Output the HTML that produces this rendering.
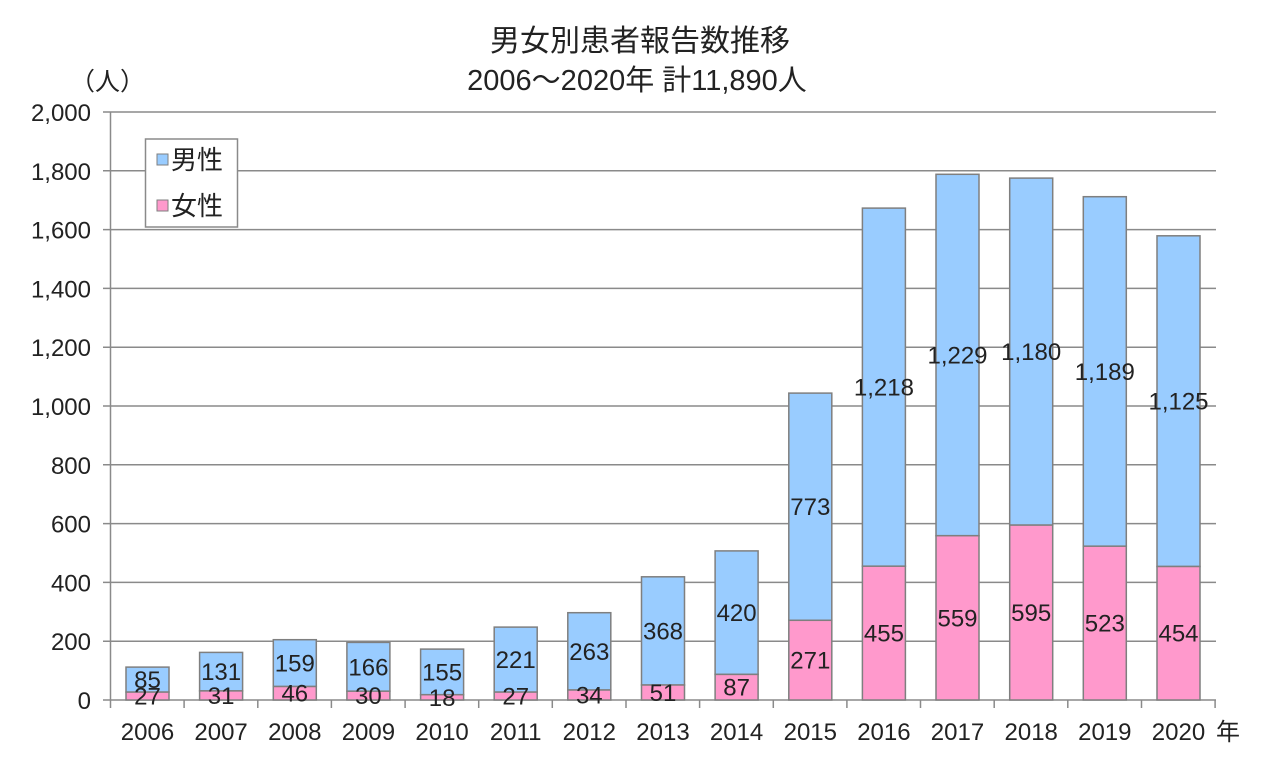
<!DOCTYPE html>
<html><head><meta charset="utf-8"><style>
html,body{margin:0;padding:0;background:#fff}
svg{display:block}
text{font-family:"Liberation Sans","Noto Sans CJK JP",sans-serif;fill:#222}
</style></head><body>
<svg width="1280" height="761" viewBox="0 0 1280 761" xmlns="http://www.w3.org/2000/svg">
<text x="640" y="51" font-size="30" text-anchor="middle">男女別患者報告数推移</text>
<text x="637" y="90" font-size="29" text-anchor="middle">2006～2020年  計11,890人</text>
<text x="70" y="90" font-size="25">（人）</text>
<g stroke="#8a8a8a" stroke-width="1.5">
<line x1="103" y1="112" x2="1216" y2="112"/><line x1="103" y1="170.8" x2="1216" y2="170.8"/>
<line x1="103" y1="229.6" x2="1216" y2="229.6"/><line x1="103" y1="288.4" x2="1216" y2="288.4"/>
<line x1="103" y1="347.2" x2="1216" y2="347.2"/><line x1="103" y1="406" x2="1216" y2="406"/>
<line x1="103" y1="464.8" x2="1216" y2="464.8"/><line x1="103" y1="523.6" x2="1216" y2="523.6"/>
<line x1="103" y1="582.4" x2="1216" y2="582.4"/><line x1="103" y1="641.2" x2="1216" y2="641.2"/>
<line x1="103" y1="700" x2="1216" y2="700"/>
<line x1="110.5" y1="112" x2="110.5" y2="708"/>
</g>
<g stroke="#8a8a8a" stroke-width="1.5">
<line x1="184.1" y1="700" x2="184.1" y2="708"/><line x1="257.8" y1="700" x2="257.8" y2="708"/>
<line x1="331.4" y1="700" x2="331.4" y2="708"/><line x1="405.1" y1="700" x2="405.1" y2="708"/>
<line x1="478.7" y1="700" x2="478.7" y2="708"/><line x1="552.3" y1="700" x2="552.3" y2="708"/>
<line x1="626" y1="700" x2="626" y2="708"/><line x1="699.6" y1="700" x2="699.6" y2="708"/>
<line x1="773.3" y1="700" x2="773.3" y2="708"/><line x1="846.9" y1="700" x2="846.9" y2="708"/>
<line x1="920.5" y1="700" x2="920.5" y2="708"/><line x1="994.2" y1="700" x2="994.2" y2="708"/>
<line x1="1067.8" y1="700" x2="1067.8" y2="708"/><line x1="1141.5" y1="700" x2="1141.5" y2="708"/>
<line x1="1215.1" y1="700" x2="1215.1" y2="708"/>
</g>
<g font-size="24" text-anchor="end">
<text x="91" y="121">2,000</text><text x="91" y="179.8">1,800</text><text x="91" y="238.6">1,600</text>
<text x="91" y="297.4">1,400</text><text x="91" y="356.2">1,200</text><text x="91" y="415">1,000</text>
<text x="91" y="473.8">800</text><text x="91" y="532.6">600</text><text x="91" y="591.4">400</text>
<text x="91" y="650.2">200</text><text x="91" y="709">0</text>
</g>
<g font-size="24" text-anchor="middle">
<text x="147.5" y="740">2006</text><text x="221.1" y="740">2007</text><text x="294.8" y="740">2008</text>
<text x="368.4" y="740">2009</text><text x="442.1" y="740">2010</text><text x="515.7" y="740">2011</text>
<text x="589.3" y="740">2012</text><text x="663" y="740">2013</text><text x="736.6" y="740">2014</text>
<text x="810.3" y="740">2015</text><text x="883.9" y="740">2016</text><text x="957.5" y="740">2017</text>
<text x="1031.2" y="740">2018</text><text x="1104.8" y="740">2019</text><text x="1178.5" y="740">2020</text>
</g>
<text x="1216" y="740" font-size="24">年</text>
<g stroke="#7f7f7f" stroke-width="1.5">
<rect x="126" y="667.1" width="43" height="25" fill="#99ccff"/><rect x="126" y="692.1" width="43" height="7.9" fill="#ff99cc"/>
<rect x="199.6" y="652.4" width="43" height="38.5" fill="#99ccff"/><rect x="199.6" y="690.9" width="43" height="9.1" fill="#ff99cc"/>
<rect x="273.3" y="639.7" width="43" height="46.8" fill="#99ccff"/><rect x="273.3" y="686.5" width="43" height="13.5" fill="#ff99cc"/>
<rect x="346.9" y="642.4" width="43" height="48.8" fill="#99ccff"/><rect x="346.9" y="691.2" width="43" height="8.8" fill="#ff99cc"/>
<rect x="420.6" y="649.1" width="43" height="45.6" fill="#99ccff"/><rect x="420.6" y="694.7" width="43" height="5.3" fill="#ff99cc"/>
<rect x="494.2" y="627.1" width="43" height="65" fill="#99ccff"/><rect x="494.2" y="692.1" width="43" height="7.9" fill="#ff99cc"/>
<rect x="567.8" y="612.7" width="43" height="77.3" fill="#99ccff"/><rect x="567.8" y="690" width="43" height="10" fill="#ff99cc"/>
<rect x="641.5" y="576.8" width="43" height="108.2" fill="#99ccff"/><rect x="641.5" y="685" width="43" height="15" fill="#ff99cc"/>
<rect x="715.1" y="550.9" width="43" height="123.5" fill="#99ccff"/><rect x="715.1" y="674.4" width="43" height="25.6" fill="#ff99cc"/>
<rect x="788.8" y="393.1" width="43" height="227.2" fill="#99ccff"/><rect x="788.8" y="620.3" width="43" height="79.7" fill="#ff99cc"/>
<rect x="862.4" y="208.1" width="43" height="358.1" fill="#99ccff"/><rect x="862.4" y="566.2" width="43" height="133.8" fill="#ff99cc"/>
<rect x="936" y="174.3" width="43" height="361.4" fill="#99ccff"/><rect x="936" y="535.7" width="43" height="164.3" fill="#ff99cc"/>
<rect x="1009.7" y="178.1" width="43" height="347" fill="#99ccff"/><rect x="1009.7" y="525.1" width="43" height="174.9" fill="#ff99cc"/>
<rect x="1083.3" y="196.7" width="43" height="349.5" fill="#99ccff"/><rect x="1083.3" y="546.2" width="43" height="153.8" fill="#ff99cc"/>
<rect x="1157" y="235.8" width="43" height="330.7" fill="#99ccff"/><rect x="1157" y="566.5" width="43" height="133.5" fill="#ff99cc"/>
</g>
<g font-size="24" text-anchor="middle" dominant-baseline="central">
<text x="147.5" y="680.6">85</text><text x="147.5" y="697">27</text>
<text x="221.1" y="672.6">131</text><text x="221.1" y="696.4">31</text>
<text x="294.8" y="664.1">159</text><text x="294.8" y="694.2">46</text>
<text x="368.4" y="667.8">166</text><text x="368.4" y="696.6">30</text>
<text x="442.1" y="672.9">155</text><text x="442.1" y="698.4">18</text>
<text x="515.7" y="660.6">221</text><text x="515.7" y="697">27</text>
<text x="589.3" y="652.4">263</text><text x="589.3" y="696">34</text>
<text x="663" y="631.9">368</text><text x="663" y="693.5">51</text>
<text x="736.6" y="613.7">420</text><text x="736.6" y="688.2">87</text>
<text x="810.3" y="507.7">773</text><text x="810.3" y="661.2">271</text>
<text x="883.9" y="388.2">1,218</text><text x="883.9" y="634.1">455</text>
<text x="957.5" y="356">1,229</text><text x="957.5" y="618.8">559</text>
<text x="1031.2" y="352.6">1,180</text><text x="1031.2" y="613.5">595</text>
<text x="1104.8" y="372.5">1,189</text><text x="1104.8" y="624.1">523</text>
<text x="1178.5" y="402.2">1,125</text><text x="1178.5" y="634.2">454</text>
</g>
<rect x="145.5" y="139" width="92" height="88" fill="#fff" stroke="#8a8a8a" stroke-width="1.5"/>
<rect x="157" y="154" width="11" height="11" fill="#99ccff" stroke="#7f7f7f"/>
<text x="171" y="169" font-size="26">男性</text>
<rect x="157" y="200" width="11" height="11" fill="#ff99cc" stroke="#7f7f7f"/>
<text x="171" y="215" font-size="26">女性</text>
</svg>
</body></html>
